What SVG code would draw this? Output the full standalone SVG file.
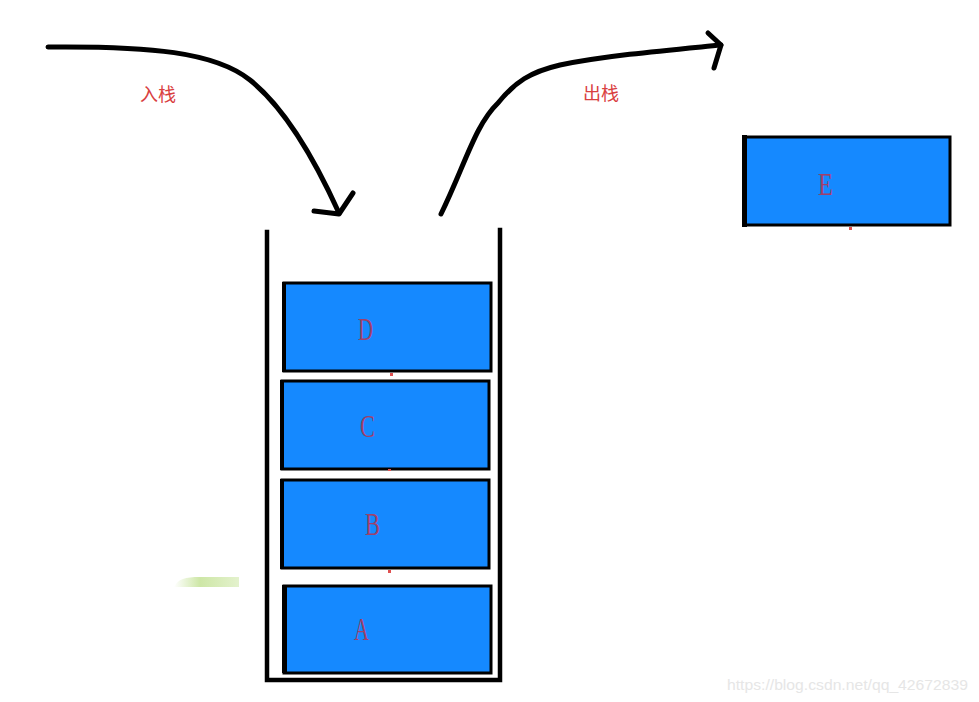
<svg xmlns="http://www.w3.org/2000/svg" width="979" height="702" viewBox="0 0 979 702">
<defs>
<linearGradient id="smudge" x1="0" y1="0" x2="1" y2="0">
<stop offset="0" stop-color="#ffffff"/>
<stop offset="0.4" stop-color="#b8dc80"/>
<stop offset="1" stop-color="#d8ecb8"/>
</linearGradient>
</defs>
<style>
.box{fill:#1589ff;stroke:#000;stroke-width:3}
.lbl{font-family:"Liberation Serif",serif;font-size:31px;fill:#a0406a}
.cn{font-family:"Noto Sans CJK SC",sans-serif;font-size:18px;fill:#d94040}
.wall{fill:none;stroke:#000;stroke-width:4.5;stroke-linecap:square}
.arrow{fill:none;stroke:#000;stroke-width:5;stroke-linecap:round;stroke-linejoin:round}
.dot{fill:#e05050}
.wm{font-family:"Liberation Sans",sans-serif;font-size:15px;fill:#e6e6e6}
</style>
<rect width="979" height="702" fill="#fff"/>
<g id="connectors">
<path class="arrow" d="M48,47 C150,46 215,52 250,80 C285,108 315,160 339,213"/>
<path class="arrow" d="M314,211 L339,214 L353,193"/>
<path class="arrow" d="M441,214 C465,165 475,125 498,103 C515,82 530,72 560,65 C610,55 670,50 721,45"/>
<path class="arrow" d="M708,33 L721,45 L714,68"/>
</g>
<g id="label-push"><text class="cn" x="140" y="101">入栈</text></g>
<g id="label-pop"><text class="cn" x="583" y="100">出栈</text></g>
<g id="stack">
<path class="wall" d="M267,232 L267,680 L500,680 L500,230"/>
</g>
<g id="node-D">
<rect class="box" x="284" y="283" width="207" height="88"/>
<rect x="282" y="282" width="4" height="90" fill="#000"/>
<text class="lbl" x="358" y="340" textLength="15" lengthAdjust="spacingAndGlyphs">D</text>
<rect class="dot" x="390" y="373" width="3" height="3"/>
</g>
<g id="node-C">
<rect class="box" x="282" y="381" width="207" height="88"/>
<rect x="280" y="380" width="4" height="90" fill="#000"/>
<text class="lbl" x="360" y="437" textLength="15" lengthAdjust="spacingAndGlyphs">C</text>
<rect class="dot" x="388" y="469" width="3" height="2"/>
</g>
<g id="node-B">
<rect class="box" x="282" y="480" width="207" height="88"/>
<rect x="280" y="479" width="4" height="90" fill="#000"/>
<text class="lbl" x="365" y="535" textLength="15" lengthAdjust="spacingAndGlyphs">B</text>
<rect class="dot" x="388" y="570" width="3" height="3"/>
</g>
<g id="node-A">
<rect class="box" x="284" y="586" width="207" height="87"/>
<rect x="282" y="585" width="5" height="88" fill="#000"/>
<text class="lbl" x="354" y="640" textLength="15" lengthAdjust="spacingAndGlyphs">A</text>
</g>
<g id="node-E">
<rect class="box" x="744" y="137" width="206" height="88"/>
<rect x="742" y="135" width="5" height="92" fill="#000"/>
<text class="lbl" x="818" y="195" textLength="15" lengthAdjust="spacingAndGlyphs">E</text>
<rect class="dot" x="849" y="227" width="3" height="3"/>
</g>
<path d="M174,587 C178,579 185,577 200,577 L239,577 L239,587 Z" fill="url(#smudge)" opacity="0.7"/>
<text class="wm" x="727" y="690" textLength="241" lengthAdjust="spacingAndGlyphs">https://blog.csdn.net/qq_42672839</text>
</svg>
